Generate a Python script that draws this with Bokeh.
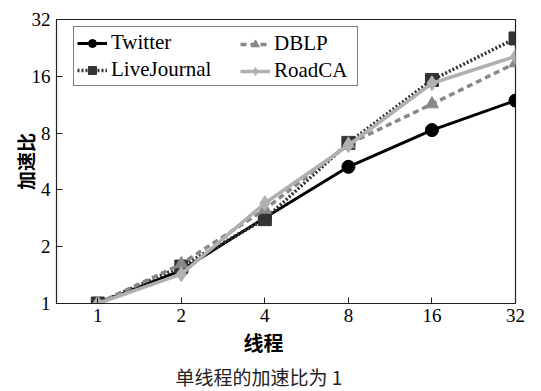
from bokeh.plotting import figure
from bokeh.models import FixedTicker, Legend, LegendItem, Title
from bokeh.embed import file_html
from bokeh.resources import INLINE

threads = [1, 2, 4, 8, 16, 32]
twitter = [1, 1.5, 2.85, 5.3, 8.3, 11.9]
livejournal = [1, 1.57, 2.8, 7.1, 15.3, 25.4]
dblp = [1, 1.62, 3.15, 7.0, 11.4, 18.8]
roadca = [1, 1.43, 3.4, 6.9, 14.7, 20.4]
tick_vals = [1, 2, 4, 8, 16, 32]
series_names = ["Twitter", "LiveJournal", "DBLP", "RoadCA"]

serif = "Liberation Serif"
cjk = "Noto Sans CJK SC"

p = figure(width=541, height=391, x_axis_type="log", y_axis_type="log",
           x_range=(0.71, 32), y_range=(1, 32),
           output_backend="svg", toolbar_location=None,
           min_border_left=56, min_border_right=26, min_border_top=19,
           min_border_bottom=86)
p.background_fill_color = "white"
p.border_fill_color = "white"
p.outline_line_color = "#222222"
p.outline_line_width = 1.2
p.grid.visible = False

for ax in (p.xaxis[0], p.yaxis[0]):
    ax.ticker = FixedTicker(ticks=tick_vals)
    ax.major_label_overrides = {v: str(v) for v in tick_vals}
    ax.major_tick_in = 6
    ax.major_tick_out = 0
    ax.minor_tick_in = 0
    ax.minor_tick_out = 0
    ax.axis_line_color = "#222222"
    ax.major_tick_line_color = "#222222"
    ax.major_label_text_font = serif
    ax.major_label_text_font_size = "19px"
    ax.major_label_text_color = "black"
    ax.axis_label_text_font = cjk
    ax.axis_label_text_font_size = "19px"
    ax.axis_label_text_font_style = "bold"
    ax.axis_label_text_color = "black"

p.yaxis.axis_label = "加速比"
p.xaxis.major_label_standoff = 5
p.yaxis.major_label_standoff = 6
p.yaxis.axis_label_standoff = -10

xlab = Title(text="线程", align="left", offset=187, text_font=cjk,
             text_font_size="20px", text_font_style="bold", text_color="black",
             standoff=3)
p.add_layout(xlab, "below")
cap = Title(text="单线程的加速比为 1", align="left", offset=119, text_font=cjk,
            text_font_size="19px", text_font_style="normal", text_color="#222222",
            standoff=4, text_line_height=0.75)
p.add_layout(cap, "below")

r1l = p.line(threads, twitter, line_color="black", line_width=3)
r1m = p.scatter(threads, twitter, marker="circle", size=13, fill_color="black", line_color="black")
r2l = p.line(threads, livejournal, line_color="#333333", line_width=3.5, line_dash="2 2")
r2m = p.scatter(threads, livejournal, marker="square", size=13, fill_color="#333333", line_color="#333333")
r3l = p.line(threads, dblp, line_color="#888888", line_width=3.5, line_dash="6 4")
r3m = p.scatter(threads, dblp, marker="triangle", size=13, fill_color="#888888", line_color="#888888")
r4l = p.line(threads, roadca, line_color="#b0b0b0", line_width=3.5)
r4m = p.scatter(threads, roadca, marker="diamond", size=15, fill_color="#b0b0b0", line_color="#b0b0b0")


def make_legend(items, loc, label_width, boxed):
    lg = Legend(items=items, location=loc)
    lg.label_text_font = serif
    lg.label_text_font_size = "21px"
    lg.label_text_color = "black"
    lg.padding = 3
    lg.spacing = 2
    lg.margin = 0
    lg.glyph_width = 30
    lg.glyph_height = 20
    lg.label_height = 20
    lg.label_width = label_width
    lg.label_standoff = 4
    if boxed:
        lg.border_line_color = "black"
        lg.border_line_width = 1
        lg.background_fill_color = "white"
        lg.background_fill_alpha = 1
    else:
        lg.border_line_alpha = 0
        lg.background_fill_alpha = 0
    return lg


leg_a = make_legend([LegendItem(label=series_names[0], renderers=[r1l, r1m]),
                     LegendItem(label=series_names[1], renderers=[r2l, r2m])],
                    (17, 217), 243, True)
leg_b = make_legend([LegendItem(label=series_names[2], renderers=[r3l, r3m]),
                     LegendItem(label=series_names[3], renderers=[r4l, r4m])],
                    (181, 217), 70, False)
p.add_layout(leg_a, "center")
p.add_layout(leg_b, "center")

open("out.html", "w").write(file_html(p, INLINE))
